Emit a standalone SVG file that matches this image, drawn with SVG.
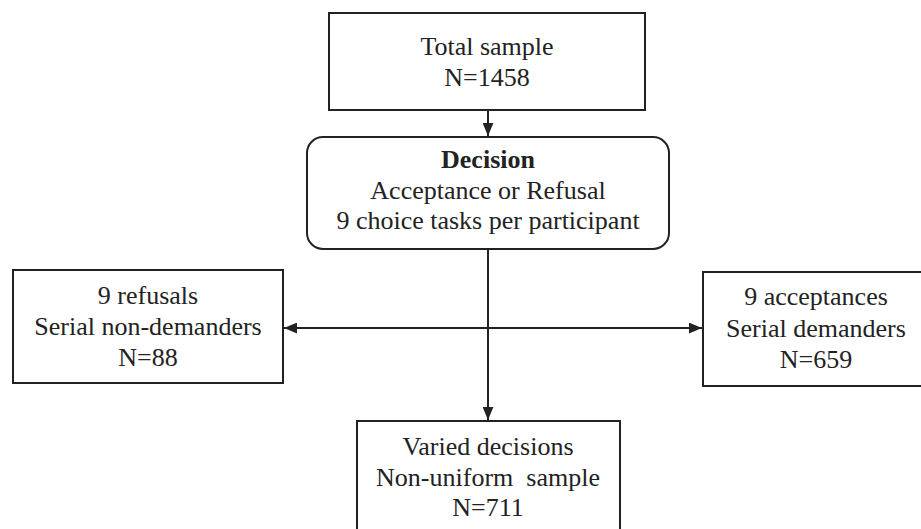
<svg xmlns="http://www.w3.org/2000/svg" width="921" height="529" viewBox="0 0 921 529">
<style>
.box{fill:#fff;stroke:#222;stroke-width:2}
text{font-family:'Liberation Serif','Times New Roman','DejaVu Serif',serif;font-size:26px;fill:#222;text-anchor:middle}
.b{font-weight:bold}
.c{stroke:#222;stroke-width:2;fill:none}
</style>
<defs>
<marker id="ah" viewBox="0 0 12 10" refX="12" refY="5" markerWidth="6.5" markerHeight="5.5" orient="auto" markerUnits="strokeWidth">
<path d="M0,0 L12,5 L0,10 z" fill="#222"/>
</marker>
</defs>
<rect width="921" height="529" fill="#fff"/>
<g id="connectors">
<line class="c" x1="488" y1="110" x2="488" y2="136" marker-end="url(#ah)"/>
<line class="c" x1="488" y1="249" x2="488" y2="420" marker-end="url(#ah)"/>
<line class="c" x1="488" y1="328" x2="284" y2="328" marker-end="url(#ah)"/>
<line class="c" x1="488" y1="328" x2="702" y2="328" marker-end="url(#ah)"/>
</g>
<g id="total">
<rect class="box" x="329" y="13" width="316" height="97"/>
<text x="487" y="55">Total sample</text>
<text x="487" y="86">N=1458</text>
</g>
<g id="decision">
<rect class="box" x="307" y="137" width="362" height="112" rx="16"/>
<text class="b" x="488" y="168">Decision</text>
<text x="488" y="199">Acceptance or Refusal</text>
<text x="488" y="229">9 choice tasks per participant</text>
</g>
<g id="refusals">
<rect class="box" x="13" y="270" width="270" height="113"/>
<text x="148" y="304">9 refusals</text>
<text x="148" y="335">Serial non-demanders</text>
<text x="148" y="366">N=88</text>
</g>
<g id="acceptances">
<rect class="box" x="703" y="272" width="226" height="114"/>
<text x="816" y="305">9 acceptances</text>
<text x="816" y="337">Serial demanders</text>
<text x="816" y="368">N=659</text>
</g>
<g id="varied">
<rect class="box" x="357" y="421" width="263" height="120"/>
<text x="488" y="455">Varied decisions</text>
<text x="488" y="486" xml:space="preserve">Non-uniform  sample</text>
<text x="488" y="516">N=711</text>
</g>
</svg>
